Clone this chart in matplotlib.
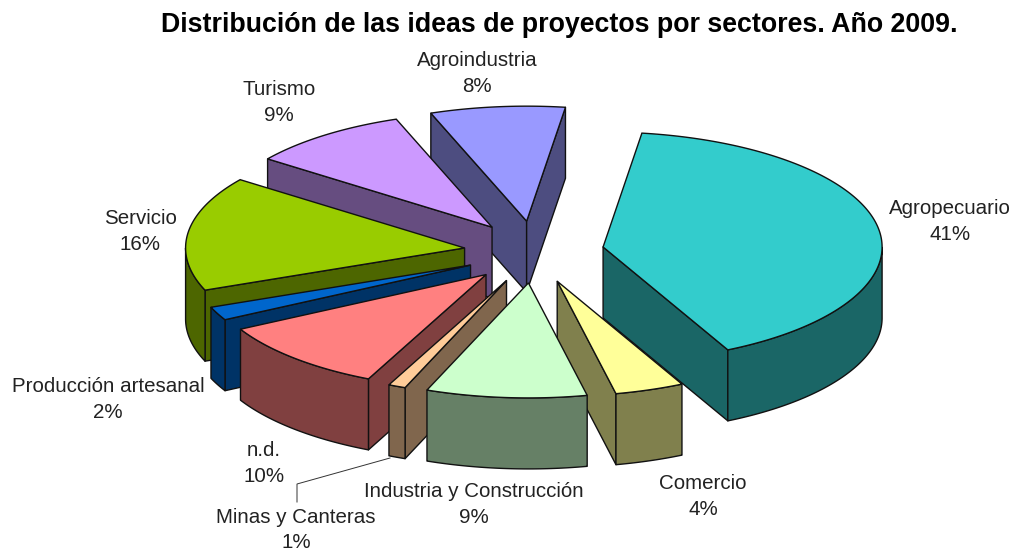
import numpy as np
import matplotlib
matplotlib.use("Agg")
import matplotlib.pyplot as plt
from matplotlib.patches import Polygon

plt.rcParams['font.family'] = ['Liberation Sans', 'DejaVu Sans']

sectors = ['Agropecuario', 'Comercio', 'Industria y Construcción', 'Minas y Canteras', 'n.d.',
           'Producción artesanal', 'Servicio', 'Turismo', 'Agroindustria']
# printed percentages
pct_labels = [41, 4, 9, 1, 10, 2, 16, 9, 8]
# slice sizes as measured on the drawing, the printed numbers are rounded
shares = [40.4, 4.0, 9.3, 1.0, 10.2, 1.9, 16.1, 9.3, 7.8]

top_colors = ['#33CCCC', '#FFFF99', '#CCFFCC', '#FFCC99', '#FF8080', '#0066CC', '#99CC00', '#CC99FF', '#9999FF']

# label anchors, in pixels
label_pos = [(950, 221.5), (703, 496.5), (474, 504.5), (296, 530), (264, 463.5), (108, 399.5), (140, 231.5),
             (279, 102.5), (477, 73.5)]

cx, cy = 534, 252
rx, ry = 279, 115
explode = 70
ex_squash = 0.443
depth = 71
start = 8


def darker(c):
    return np.array(matplotlib.colors.to_rgb(c)) * 0.5


fig = plt.figure(figsize=(10.15, 5.52), dpi=100)
ax = fig.add_axes([0, 0, 1, 1])
ax.set_xlim(0, 1015)
ax.set_ylim(552, 0)
ax.axis('off')

edges = start + np.cumsum([0] + shares) * 3.6
down = np.array([0, depth])

# back slices first
order = [8, 7, 6, 5, 4, 0, 1, 3, 2]
z = 2
for i in order:
    a0, a1 = edges[i], edges[i + 1]
    mid = np.radians((a0 + a1) / 2)
    apex = np.array([cx + explode * np.sin(mid), cy - explode * ex_squash * np.cos(mid)])
    th = np.radians(np.linspace(a0, a1, 300))
    arc = np.column_stack([apex[0] + rx * np.sin(th), apex[1] - ry * np.cos(th)])

    kw = dict(facecolor=darker(top_colors[i]), edgecolor='#111111', linewidth=1.0, joinstyle='round')
    # radial faces, only the ones looking at the viewer
    if arc[0, 0] < apex[0]:
        ax.add_patch(Polygon([apex, arc[0], arc[0] + down, apex + down], zorder=z, **kw))
    if arc[-1, 0] > apex[0]:
        ax.add_patch(Polygon([apex, arc[-1], arc[-1] + down, apex + down], zorder=z, **kw))
    # outer wall, front part of the rim
    part = arc[arc[:, 1] >= apex[1]]
    if len(part) > 1:
        ax.add_patch(Polygon(np.vstack([part, part[::-1] + down]), zorder=z, **kw))
    ax.add_patch(Polygon(np.vstack([apex, arc]), facecolor=top_colors[i], edgecolor='#111111',
                         linewidth=1.0, zorder=z + 0.5))
    z += 1

# leader line for Minas y Canteras
ax.plot([390, 297, 297], [458, 484, 502], color='#333333', lw=0.7, zorder=30)

for name, v, (x, y) in zip(sectors, pct_labels, label_pos):
    ax.text(x, y, f"{name}\n{v}%", ha='center', va='center', fontsize=14.8, linespacing=1.45,
            color='#222222', zorder=40)

ax.text(559, 25, 'Distribución de las ideas de proyectos por sectores. Año 2009.',
        ha='center', va='center', fontsize=19.3, fontweight='bold', color='black')

fig.savefig('out.png', dpi=100)
